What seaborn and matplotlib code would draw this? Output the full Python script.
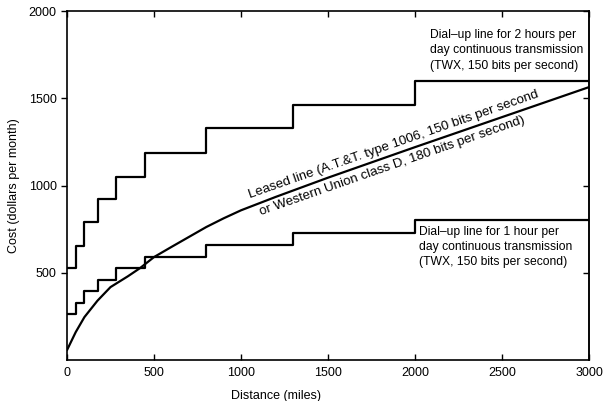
import numpy as np
import pandas as pd
import seaborn as sns
import matplotlib.pyplot as plt

# mileage bands for the dial-up (TWX) tariff, step changes at each break
band_miles = [0, 50, 100, 180, 280, 450, 800, 1300, 2000, 3000]
cost_1hr = [262, 327, 393, 458, 525, 590, 660, 728, 800, 800]
cost_2hr = [525, 655, 790, 920, 1050, 1185, 1330, 1460, 1600, 1600]

# leased line curve
leased_miles = [0, 50, 100, 175, 250, 350, 420, 500, 600, 700, 800, 900,
                1000, 1200, 1500, 2000, 2500, 3000]
leased_cost = [57, 160, 246, 340, 418, 480, 527, 590, 648, 705, 762, 812,
               858, 935, 1045, 1220, 1392, 1564]

x_ticks = [0, 500, 1000, 1500, 2000, 2500, 3000]
y_ticks = [500, 1000, 1500, 2000]

sns.set_style("ticks")
plt.rcParams["font.family"] = ["Liberation Sans", "DejaVu Sans"]
plt.rcParams["text.color"] = "black"
plt.rcParams["axes.labelcolor"] = "black"
plt.rcParams["xtick.color"] = "black"
plt.rcParams["ytick.color"] = "black"

fig = plt.figure(figsize=(6.06, 4.01), dpi=100)
ax = fig.add_axes([0.1106, 0.1022, 0.8614, 0.8703])

steps = pd.DataFrame({"miles": band_miles, "one": cost_1hr, "two": cost_2hr})
leased = pd.DataFrame({"miles": leased_miles, "cost": leased_cost})

sns.lineplot(data=steps, x="miles", y="two", ax=ax, color="black", lw=1.6,
             drawstyle="steps-post", estimator=None, sort=False)
sns.lineplot(data=steps, x="miles", y="one", ax=ax, color="black", lw=1.6,
             drawstyle="steps-post", estimator=None, sort=False)
sns.lineplot(data=leased, x="miles", y="cost", ax=ax, color="black", lw=1.6,
             estimator=None, sort=False)

ax.set_xlim(0, 3000)
ax.set_ylim(0, 2000)
ax.set_xticks(x_ticks)
ax.set_yticks(y_ticks)
ax.tick_params(axis="x", direction="in", top=True, length=4, labelsize=9,
               pad=5, width=1)
ax.tick_params(axis="y", direction="out", length=4, labelsize=9, width=1)
# inward ticks on the right side
ax2 = ax.secondary_yaxis("right")
ax2.set_yticks(y_ticks)
ax2.tick_params(direction="in", length=4, labelright=False, width=1)

for s in ax.spines.values():
    s.set_linewidth(1.2)
    s.set_color("black")
ax2.spines["right"].set_linewidth(1.2)

ax.set_xlabel("Distance (miles)", fontsize=9, x=0.40, labelpad=8)
ax.set_ylabel("Cost (dollars per month)", fontsize=9, labelpad=6)

ax.text(2086, 1895, "Dial–up line for 2 hours per\nday continuous transmission\n(TWX, 150 bits per second)",
        fontsize=8.7, ha="left", va="top", linespacing=1.35)
ax.text(2023, 770, "Dial–up line for 1 hour per\nday continuous transmission\n(TWX, 150 bits per second)",
        fontsize=8.7, ha="left", va="top", linespacing=1.35)

ax.text(1052, 925, "Leased line (A.T.&T. type 1006, 150 bits per second",
        fontsize=9.6, rotation=19.3, rotation_mode="anchor", ha="left", va="baseline")
ax.text(1098, 880, "or Western Union class D, 180 bits per second)",
        fontsize=9.6, rotation=19.3, rotation_mode="anchor", ha="left", va="top")

fig.savefig("out.png", dpi=100, facecolor="white")
